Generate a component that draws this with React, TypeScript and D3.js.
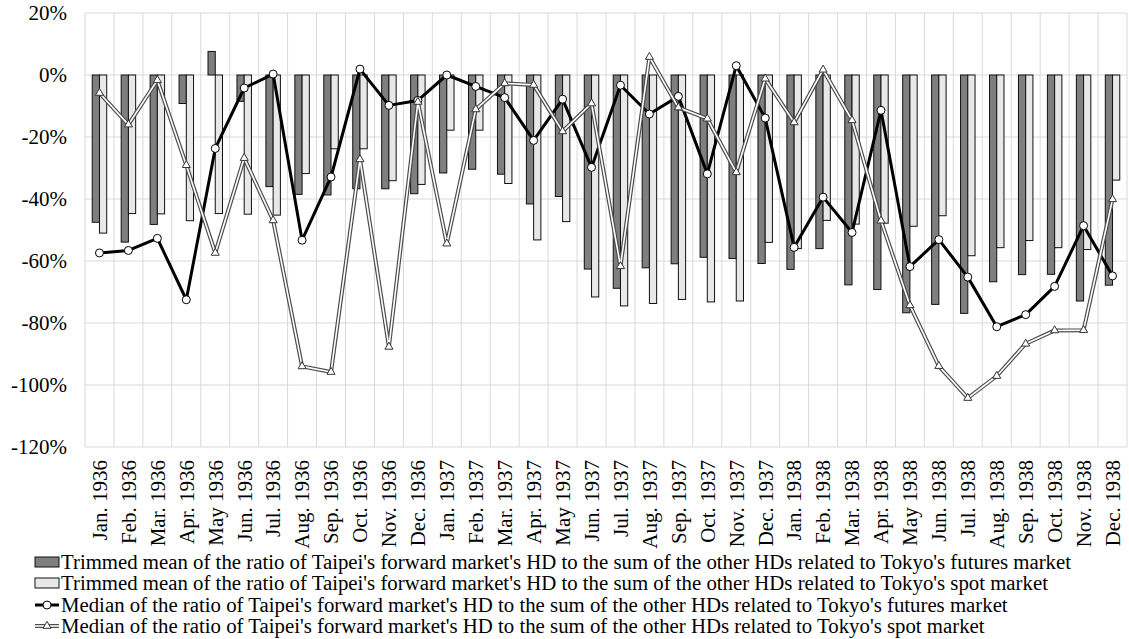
import * as d3 from "d3";

const months = [
  "Jan. 1936", "Feb. 1936", "Mar. 1936", "Apr. 1936", "May 1936", "Jun. 1936",
  "Jul. 1936", "Aug. 1936", "Sep. 1936", "Oct. 1936", "Nov. 1936", "Dec. 1936",
  "Jan. 1937", "Feb. 1937", "Mar. 1937", "Apr. 1937", "May 1937", "Jun. 1937",
  "Jul. 1937", "Aug. 1937", "Sep. 1937", "Oct. 1937", "Nov. 1937", "Dec. 1937",
  "Jan. 1938", "Feb. 1938", "Mar. 1938", "Apr. 1938", "May 1938", "Jun. 1938",
  "Jul. 1938", "Aug. 1938", "Sep. 1938", "Oct. 1938", "Nov. 1938", "Dec. 1938",
];

// trimmed means (bars), percent
const futuresMean = [
  -47.5, -53.9, -48.2, -9.2, 7.6, -8.5, -36, -38.5, -38.7, -36.7, -36.7, -38.3,
  -31.6, -30.4, -32, -41.6, -39.2, -62.6, -68.8, -62.2, -60.9, -58.8, -59.2, -60.8,
  -62.7, -56, -67.7, -69.2, -76.7, -74, -76.9, -66.7, -64.4, -64.3, -72.9, -67.8,
];
const spotMean = [
  -51, -44.7, -44.8, -47, -44.7, -44.9, -45.2, -31.8, -23.8, -23.8, -34.1, -35.3,
  -17.8, -17.8, -35, -53.2, -47.3, -71.6, -74.5, -73.7, -72.4, -73.2, -72.9, -54,
  -56, -46.9, -48.1, -47.8, -48.8, -45.4, -58.3, -55.7, -53.4, -55.7, -56.3, -33.9,
];

// medians (lines), percent
const futuresMedian = [
  -57.4, -56.6, -52.7, -72.5, -23.7, -4.2, 0.3, -53.3, -32.9, 1.9, -9.8, -8.2,
  0, -3.7, -7.3, -21.1, -7.8, -29.8, -3.3, -12.6, -6.9, -31.9, 3.0, -13.9,
  -55.6, -39.4, -50.8, -11.4, -61.8, -53.1, -65.2, -81.2, -77.3, -68.2, -48.6, -64.8,
];
const spotMedian = [
  -5.8, -16, -1.7, -29.1, -57.4, -26.8, -46.9, -94, -95.8, -27.2, -87.7, -8.7,
  -54.4, -11.1, -2.7, -3.2, -18.2, -9.2, -61.7, 5.8, -10.5, -14.1, -31.4, -1.2,
  -15.3, 1.7, -14.6, -47, -74.3, -93.9, -104.2, -97.1, -86.7, -82.4, -82.3, -40.1,
];

const yTicks = [20, 0, -20, -40, -60, -80, -100, -120];

const legendLabels = [
  "Trimmed mean of the ratio of Taipei's forward market's HD to the sum of the other HDs related to Tokyo's futures market",
  "Trimmed mean of the ratio of Taipei's forward market's HD to the sum of the other HDs related to Tokyo's spot market",
  "Median of the ratio of Taipei's forward market's HD to the sum of the other HDs related to Tokyo's futures market",
  "Median of the ratio of Taipei's forward market's HD to the sum of the other HDs related to Tokyo's spot market",
];

const W = 1129;
const H = 639;
const FONT = "Liberation Serif, Times New Roman, serif";

const left = 85, right = 1127, top = 13, bottom = 447;
const x = d3.scaleBand().domain(months).range([left, right]).padding(0);
const y = d3.scaleLinear().domain([-120, 20]).range([bottom, top]);
const bw = x.bandwidth();
const barW = bw * 0.25;
const cx = (m: string) => x(m)! + bw / 2;
const line = d3.line<number>().x((_d, i) => cx(months[i])).y((d) => y(d));
const tri = d3.symbol().type(d3.symbolTriangle).size(28)()!;

function Bars({ vals, dx, fill }: { vals: number[]; dx: number; fill: string }) {
  return (
    <g>
      {months.map((m, i) => (
        <rect
          key={m}
          x={cx(m) + dx}
          width={barW}
          y={Math.min(y(vals[i]), y(0))}
          height={Math.abs(y(vals[i]) - y(0))}
          fill={fill}
          stroke="#111"
          strokeWidth={1}
        />
      ))}
    </g>
  );
}

// gray "double" line: dark outer stroke with a white core
function DoubleLine({ d }: { d: string }) {
  return (
    <g fill="none" strokeLinejoin="round">
      <path d={d} stroke="#4d4d4d" strokeWidth={4} />
      <path d={d} stroke="#fff" strokeWidth={1.6} />
    </g>
  );
}

export default function App() {
  const rowY = [562, 583, 605, 626];
  const txt = { fontFamily: FONT, fontSize: 21, fill: "#000" };
  return (
    <svg width={W} height={H} style={{ position: "absolute", left: 0, top: 0, background: "#fff" }}>
      <g stroke="#d9d9d9" strokeWidth={1}>
        {yTicks.map((t) => (
          <line key={t} x1={left} x2={right} y1={y(t)} y2={y(t)} />
        ))}
        {[...months.map((m) => x(m)!), right].map((v, i) => (
          <line key={i} x1={v} x2={v} y1={top} y2={bottom} />
        ))}
      </g>

      {yTicks.map((t) => (
        <text key={t} x={67} y={y(t)} dy="0.35em" textAnchor="end" style={txt}>
          {`${t}%`}
        </text>
      ))}
      {months.map((m) => (
        <text
          key={m}
          transform={`translate(${cx(m)},460) rotate(-90)`}
          dy="0.35em"
          textAnchor="end"
          style={txt}
        >
          {m}
        </text>
      ))}

      <Bars vals={futuresMean} dx={-barW} fill="#7f7f7f" />
      <Bars vals={spotMean} dx={0} fill="#e8e8e8" />

      <path d={line(futuresMedian)!} fill="none" stroke="#000" strokeWidth={3} strokeLinejoin="round" />
      {futuresMedian.map((v, i) => (
        <circle key={i} cx={cx(months[i])} cy={y(v)} r={4} fill="#fff" stroke="#000" strokeWidth={1} />
      ))}

      <DoubleLine d={line(spotMedian)!} />
      {spotMedian.map((v, i) => (
        <path key={i} d={tri} transform={`translate(${cx(months[i])},${y(v)})`} fill="#fff" stroke="#333" strokeWidth={1} />
      ))}

      {/* legend */}
      <rect x={35} y={rowY[0] - 5} width={24} height={10} fill="#7f7f7f" stroke="#111" />
      <rect x={35} y={rowY[1] - 5} width={24} height={10} fill="#e8e8e8" stroke="#111" />
      <line x1={35} x2={59} y1={rowY[2]} y2={rowY[2]} stroke="#000" strokeWidth={3} />
      <circle cx={47} cy={rowY[2]} r={4} fill="#fff" stroke="#000" />
      <DoubleLine d={`M35,${rowY[3]}H59`} />
      <path d={tri} transform={`translate(47,${rowY[3]})`} fill="#fff" stroke="#333" />
      {legendLabels.map((l, i) => (
        <text key={l} x={61} y={rowY[i]} dy="0.35em" style={{ ...txt, fontSize: 20.8 }}>
          {l}
        </text>
      ))}
    </svg>
  );
}
